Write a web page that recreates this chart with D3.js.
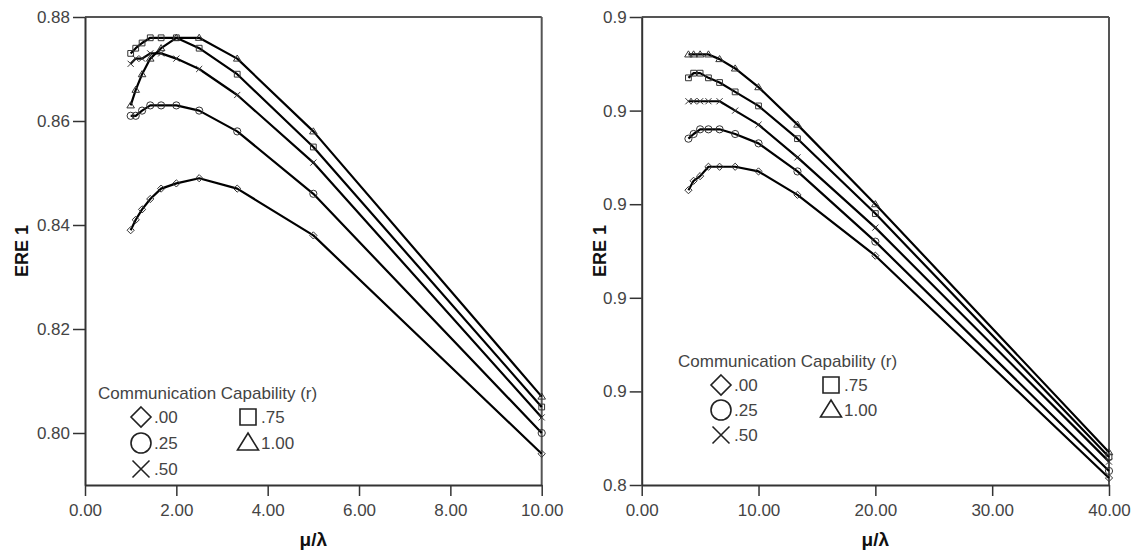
<!DOCTYPE html>
<html><head><meta charset="utf-8">
<script src="https://cdn.jsdelivr.net/npm/d3@7"></script>
<style>
html,body{margin:0;padding:0;background:#fff;}
svg{display:block;font-family:"Liberation Sans",Arial,sans-serif;}
</style></head>
<body>
<svg id="chart" width="1136" height="555"></svg>
<script>
// ---- data ----
const seriesNames = [".00", ".25", ".50", ".75", "1.00"];
const seriesShapes = ["diamond", "circle", "cross", "square", "triangle"];

const leftX = [1, 1.111, 1.25, 1.429, 1.667, 2, 2.5, 3.333, 5, 10];
const leftR000 = [0.839, 0.841, 0.843, 0.845, 0.847, 0.848, 0.849, 0.847, 0.838, 0.796];
const leftR025 = [0.861, 0.861, 0.862, 0.863, 0.863, 0.863, 0.862, 0.858, 0.846, 0.800];
const leftR050 = [0.871, 0.872, 0.872, 0.873, 0.873, 0.872, 0.870, 0.865, 0.852, 0.803];
const leftR075 = [0.873, 0.874, 0.875, 0.876, 0.876, 0.876, 0.874, 0.869, 0.855, 0.805];
const leftR100 = [0.863, 0.866, 0.869, 0.872, 0.874, 0.876, 0.876, 0.872, 0.858, 0.807];

const rightX = [4, 4.444, 5, 5.714, 6.667, 8, 10, 13.333, 20, 40];
const rightR000 = [0.913, 0.915, 0.916, 0.918, 0.918, 0.918, 0.917, 0.912, 0.899, 0.8515];
const rightR025 = [0.924, 0.925, 0.926, 0.926, 0.926, 0.925, 0.923, 0.917, 0.902, 0.853];
const rightR050 = [0.932, 0.932, 0.932, 0.932, 0.932, 0.930, 0.927, 0.920, 0.905, 0.855];
const rightR075 = [0.937, 0.938, 0.938, 0.937, 0.936, 0.934, 0.931, 0.924, 0.908, 0.856];
const rightR100 = [0.942, 0.942, 0.942, 0.942, 0.941, 0.939, 0.935, 0.927, 0.910, 0.857];

const leftXTicks = [0, 2, 4, 6, 8, 10];
const leftXTickLabels = ["0.00", "2.00", "4.00", "6.00", "8.00", "10.00"];
const leftYTicks = [0.80, 0.82, 0.84, 0.86, 0.88];
const leftYTickLabels = ["0.80", "0.82", "0.84", "0.86", "0.88"];

const rightXTicks = [0, 10, 20, 30, 40];
const rightXTickLabels = ["0.00", "10.00", "20.00", "30.00", "40.00"];
const rightYTicks = [0.85, 0.87, 0.89, 0.91, 0.93, 0.95];
const rightYTickLabels = ["0.8", "0.9", "0.9", "0.9", "0.9", "0.9"];

const legendTitle = "Communication Capability (r)";
const yTitle = "ERE 1";
const xTitle = "\u03bc/\u03bb";

// ---- drawing ----
const svg = d3.select("#chart");
svg.append("rect").attr("width", 1136).attr("height", 555).attr("fill", "#fff");

function shapePath(type, s) {
  const p = d3.path();
  if (type === "diamond") {
    p.moveTo(0, -s); p.lineTo(s, 0); p.lineTo(0, s); p.lineTo(-s, 0); p.closePath();
  } else if (type === "circle") {
    p.moveTo(s, 0); p.arc(0, 0, s, 0, 2 * Math.PI);
  } else if (type === "cross") {
    const c = s * 0.85;
    p.moveTo(-c, -c); p.lineTo(c, c); p.moveTo(-c, c); p.lineTo(c, -c);
  } else if (type === "square") {
    const c = s * 0.8;
    p.rect(-c, -c, 2 * c, 2 * c);
  } else if (type === "triangle") {
    p.moveTo(0, -s); p.lineTo(s * 1.05, s * 0.7); p.lineTo(-s * 1.05, s * 0.7); p.closePath();
  }
  return p.toString();
}

function panel(opts) {
  const g = svg.append("g");
  const x = d3.scaleLinear().domain(opts.xDomain).range([opts.x0, opts.x1]);
  const y = d3.scaleLinear().domain(opts.yDomain).range([opts.y1, opts.y0]);

  // frame top & right
  g.append("line").attr("x1", opts.x0).attr("x2", opts.x1).attr("y1", opts.y0).attr("y2", opts.y0)
    .attr("stroke", "#555").attr("stroke-width", 2);
  g.append("line").attr("x1", opts.x1).attr("x2", opts.x1).attr("y1", opts.y0).attr("y2", opts.y1)
    .attr("stroke", "#555").attr("stroke-width", 2);

  // axes
  const xAxis = d3.axisBottom(x).tickValues(opts.xTicks)
    .tickFormat((d, i) => opts.xTickLabels[i]).tickSize(11).tickSizeOuter(0).tickPadding(5);
  const yAxis = d3.axisLeft(y).tickValues(opts.yTicks)
    .tickFormat((d, i) => opts.yTickLabels[i]).tickSize(12).tickSizeOuter(0).tickPadding(3);
  const gx = g.append("g").attr("transform", `translate(0,${opts.y1})`).call(xAxis);
  const gy = g.append("g").attr("transform", `translate(${opts.x0},0)`).call(yAxis);
  [gx, gy].forEach(a => {
    a.select(".domain").attr("stroke", "#333").attr("stroke-width", 2);
    a.selectAll(".tick line").attr("stroke", "#333").attr("stroke-width", 1.5);
    a.selectAll(".tick text").attr("fill", "#444").attr("font-size", 17)
      .attr("font-family", "Liberation Sans, Arial, sans-serif");
  });
  gx.selectAll(".tick text").attr("dy", "0.9em");

  // titles
  g.append("text").attr("x", (opts.x0 + opts.x1) / 2).attr("y", 546)
    .attr("text-anchor", "middle").attr("font-weight", "bold").attr("font-size", 19)
    .attr("fill", "#111").text(xTitle);
  g.append("text").attr("transform", `translate(${opts.yTitleX},${(opts.y0 + opts.y1) / 2}) rotate(-90)`)
    .attr("text-anchor", "middle").attr("font-weight", "bold").attr("font-size", 18)
    .attr("fill", "#111").text(yTitle);

  // lines + markers
  const line = d3.line().x(d => x(d[0])).y(d => y(d[1]));
  opts.series.forEach((vals, si) => {
    const pts = opts.xs.map((xv, i) => [xv, vals[i]]);
    g.append("path").datum(pts).attr("d", line).attr("fill", "none")
      .attr("stroke", "#000").attr("stroke-width", 2.2).attr("stroke-linejoin", "round");
    g.selectAll(null).data(pts).enter().append("path")
      .attr("transform", d => `translate(${x(d[0])},${y(d[1])})`)
      .attr("d", shapePath(seriesShapes[si], 3.6))
      .attr("fill", "none").attr("stroke", "#333").attr("stroke-width", 1);
  });

  // legend
  const L = opts.legend;
  g.append("text").attr("x", L.x).attr("y", L.y).attr("dy", "0.35em")
    .attr("font-size", 17).attr("fill", "#444").text(legendTitle);
  const pos = [[0, 0], [0, 1], [0, 2], [1, 0], [1, 1]];
  seriesNames.forEach((name, i) => {
    const cx = L.x + L.dx0 + pos[i][0] * L.colW;
    const cy = L.y + L.dy0 + pos[i][1] * L.rowH;
    g.append("path").attr("transform", `translate(${cx},${cy})`)
      .attr("d", shapePath(seriesShapes[i], 10))
      .attr("fill", "none").attr("stroke", "#222").attr("stroke-width", 1.6);
    g.append("text").attr("x", cx + 13).attr("y", cy).attr("dy", "0.36em")
      .attr("font-size", 17).attr("fill", "#444").text(name);
  });
}

panel({
  x0: 85, x1: 541.7, y0: 17, y1: 485,
  xDomain: [0, 10], yDomain: [0.79, 0.88],
  xTicks: leftXTicks, xTickLabels: leftXTickLabels,
  yTicks: leftYTicks, yTickLabels: leftYTickLabels,
  xs: leftX, series: [leftR000, leftR025, leftR050, leftR075, leftR100],
  yTitleX: 28,
  legend: { x: 98, y: 393, dx0: 43, dy0: 24, colW: 107, rowH: 26 }
});

panel({
  x0: 641.7, x1: 1109, y0: 17, y1: 485,
  xDomain: [0, 40], yDomain: [0.85, 0.95],
  xTicks: rightXTicks, xTickLabels: rightXTickLabels,
  yTicks: rightYTicks, yTickLabels: rightYTickLabels,
  xs: rightX, series: [rightR000, rightR025, rightR050, rightR075, rightR100],
  yTitleX: 606,
  legend: { x: 678, y: 361, dx0: 43, dy0: 24, colW: 110, rowH: 25 }
});
</script>
</body></html>
